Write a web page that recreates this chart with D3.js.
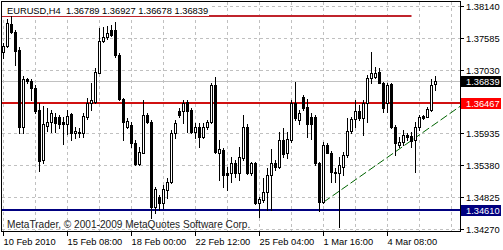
<!DOCTYPE html>
<html><head><meta charset="utf-8">
<script src="https://cdn.jsdelivr.net/npm/d3@7"></script>
<style>html,body{margin:0;padding:0;background:#fff;} svg{display:block;}</style>
</head><body><svg id="c" width="503" height="250"></svg>
<script>
// ---------- data ----------
const symbol = "EURUSD,H4";
const open = [1.37348,1.37452,1.37828,1.37695,1.37377,1.36036,1.36868,1.36845,1.36712,1.36337,
1.3547,1.36059,1.36134,1.36221,1.36209,1.36134,1.36094,1.36267,1.35932,1.35961,
1.35944,1.36221,1.36464,1.36481,1.36984,1.37539,1.37597,1.37724,1.37724,1.3729,
1.36527,1.36048,1.36077,1.35759,1.354,1.35597,1.3625,1.36134,1.3466,1.34822,
1.3473,1.34949,1.35094,1.35932,1.36325,1.36325,1.36481,1.36337,1.35961,1.36036,
1.35874,1.36036,1.36134,1.3677,1.35585,1.35643,1.35238,1.35238,1.35412,1.3525,
1.35499,1.36048,1.35238,1.35412,1.3473,1.34776,1.3492,1.3521,1.35423,1.35354,
1.35816,1.35585,1.35816,1.36464,1.36163,1.36568,1.36383,1.36221,1.36209,1.35412,
1.34747,1.3573,1.35597,1.35238,1.35238,1.35354,1.35556,1.35978,1.36175,1.36319,
1.36192,1.36452,1.36886,1.36903,1.3699,1.36799,1.36452,1.36782,1.36036,1.3573,
1.35788,1.35903,1.35886,1.35816,1.36036,1.36233,1.36221,1.36337,1.36789];
const high = [1.37493,1.37909,1.37967,1.37724,1.37435,1.36926,1.36897,1.36868,1.3677,1.36452,
1.36406,1.36366,1.36337,1.36279,1.3625,1.36221,1.36337,1.3629,1.36048,1.36019,
1.36279,1.36539,1.36799,1.37059,1.37753,1.3777,1.37793,1.37811,1.37868,1.37319,
1.36539,1.36192,1.36134,1.35816,1.35701,1.3651,1.36279,1.36163,1.35007,1.34863,
1.35036,1.35152,1.3599,1.36163,1.36366,1.3651,1.3651,1.36366,1.36105,1.36105,
1.36105,1.36163,1.36799,1.36903,1.35816,1.35672,1.35354,1.35527,1.3547,1.35701,
1.3625,1.36094,1.35441,1.35441,1.34834,1.35152,1.35325,1.35655,1.3547,1.35961,
1.36019,1.35961,1.3651,1.36828,1.36337,1.36597,1.36522,1.36279,1.3625,1.35441,
1.35788,1.35759,1.35631,1.35325,1.35527,1.35614,1.36192,1.36221,1.3651,1.36423,
1.3651,1.36944,1.37348,1.37088,1.37059,1.36828,1.36799,1.36799,1.36077,1.35874,
1.3599,1.35932,1.35961,1.36134,1.3625,1.3625,1.36394,1.36868,1.36927];
const low = [1.37233,1.37435,1.37678,1.37117,1.35932,1.35932,1.36811,1.3651,1.3629,1.35285,
1.35412,1.35978,1.35961,1.35961,1.36019,1.35747,1.3592,1.35816,1.35845,1.35874,
1.35863,1.36186,1.36337,1.36452,1.36972,1.37522,1.37562,1.3762,1.37261,1.3651,
1.35816,1.36019,1.35701,1.35383,1.35383,1.35585,1.36105,1.34458,1.34545,1.34603,
1.34631,1.34805,1.35065,1.35845,1.36221,1.36105,1.35961,1.35932,1.35845,1.35701,
1.35845,1.36001,1.36117,1.35585,1.35123,1.35007,1.34949,1.35094,1.35181,1.35123,
1.3547,1.35227,1.3521,1.34707,1.34487,1.34747,1.34603,1.34603,1.35296,1.35325,
1.35527,1.35499,1.35788,1.36163,1.36094,1.36337,1.35863,1.35828,1.35383,1.34591,
1.34718,1.35585,1.35094,1.35094,1.34314,1.3521,1.35527,1.35932,1.36048,1.36163,
1.35903,1.36134,1.36799,1.36886,1.36799,1.36308,1.36308,1.36019,1.35556,1.35701,
1.3573,1.35816,1.35701,1.35267,1.3599,1.36175,1.36209,1.36325,1.36678];
const close = [1.37446,1.37839,1.37695,1.37365,1.36036,1.36874,1.3684,1.36712,1.36325,1.35458,
1.36094,1.36134,1.36279,1.36117,1.36094,1.36094,1.36238,1.35932,1.35973,1.35944,
1.36233,1.36464,1.3651,1.37001,1.37539,1.37597,1.37666,1.37637,1.3729,1.36527,
1.36134,1.36152,1.35759,1.354,1.35614,1.3625,1.36134,1.34649,1.34961,1.3473,
1.34961,1.35094,1.35932,1.36105,1.3625,1.36464,1.36325,1.35961,1.36048,1.35874,
1.36048,1.36134,1.3677,1.35614,1.35655,1.3521,1.3521,1.35412,1.3525,1.35516,
1.36048,1.3525,1.35412,1.3473,1.34788,1.3492,1.3521,1.35423,1.35354,1.35816,
1.35574,1.35828,1.36464,1.36192,1.36279,1.36366,1.36094,1.36094,1.35412,1.34747,
1.3573,1.35597,1.35267,1.35267,1.35383,1.35556,1.35978,1.36181,1.36319,1.36204,
1.36452,1.36886,1.36972,1.36972,1.36811,1.36366,1.3677,1.36036,1.35759,1.35788,
1.35903,1.35874,1.35805,1.36048,1.36221,1.36192,1.36348,1.3677,1.36839];
const timeLabels = ["10 Feb 2010","15 Feb 08:00","18 Feb 00:00","22 Feb 12:00","25 Feb 04:00","1 Mar 16:00","4 Mar 08:00"];
const timeLabelBars = [0,16,32,48,64,80,96];
const gridBars = [0,8,16,24,32,40,48,56,64,72,80,88,96,104,112];
const priceTicks = [1.38140,1.37585,1.37030,1.36480,1.35935,1.35380,1.34825,1.34270];
const currentPrice = 1.36839;
const resistanceLevel = 1.36467;
const supportLevel = 1.34610;
const upperLevel = 1.37966;
const upperLevelEndBar = 102;
const trendBars = [80,102];
const trendPrices = [1.3474,1.3581];
const watermark = "MetaTrader, \u00a9 2001-2009 MetaQuotes Software Corp.";

// ---------- drawing ----------
const FONT = "'Liberation Sans', Arial, sans-serif";
const svg = d3.select("#c");
const L = 2, R = 460, T = 2, B = 232;
const x = d3.scaleLinear().domain([0, 108]).range([3.5, 435.5]);
const y = d3.scaleLinear().domain([1.342234, 1.382088]).range([B, T]);
const py = v => Math.round(y(v));
const fmt = d3.format(".5f");

svg.append("rect").attr("width",503).attr("height",250).attr("fill","#fff");
svg.append("defs").append("clipPath").attr("id","clip")
  .append("rect").attr("x",L).attr("y",T).attr("width",R-L).attr("height",B-T);
const plot = svg.append("g").attr("clip-path","url(#clip)");

// grid
plot.selectAll("line.hg").data(priceTicks).join("line").attr("class","hg")
  .attr("x1",L).attr("x2",R).attr("y1",d=>py(d)+0.5).attr("y2",d=>py(d)+0.5)
  .attr("stroke","#c0c0c0").attr("stroke-dasharray","3,3");
plot.selectAll("line.vg").data(gridBars).join("line").attr("class","vg")
  .attr("x1",d=>x(d)).attr("x2",d=>x(d)).attr("y1",T).attr("y2",B)
  .attr("stroke","#c0c0c0").attr("stroke-dasharray","3,3");

// current price line
plot.append("line").attr("x1",L).attr("x2",R)
  .attr("y1",py(currentPrice)+0.5).attr("y2",py(currentPrice)+0.5).attr("stroke","#c0c0c0");

// level lines
plot.append("line").attr("x1",L).attr("x2",R)
  .attr("y1",py(resistanceLevel)).attr("y2",py(resistanceLevel))
  .attr("stroke","#d01010").attr("stroke-width",2);
plot.append("line").attr("x1",L).attr("x2",R)
  .attr("y1",py(supportLevel)).attr("y2",py(supportLevel))
  .attr("stroke","#000080").attr("stroke-width",2);
plot.append("line").attr("x1",L).attr("x2",x(upperLevelEndBar))
  .attr("y1",py(upperLevel)).attr("y2",py(upperLevel))
  .attr("stroke","#c0242c").attr("stroke-width",2);

// trend line (ray)
const tl = d3.scaleLinear().domain(trendBars).range(trendPrices);
const kEnd = x.invert(R);
plot.append("line")
  .attr("x1",x(trendBars[0])).attr("y1",y(trendPrices[0]))
  .attr("x2",R).attr("y2",y(tl(kEnd)))
  .attr("stroke","#006400").attr("stroke-width",1).attr("stroke-dasharray","8,3");

// candles
const idx = d3.range(open.length);
plot.selectAll("line.wick").data(idx).join("line").attr("class","wick")
  .attr("x1",i=>x(i)).attr("x2",i=>x(i))
  .attr("y1",i=>py(high[i])).attr("y2",i=>py(low[i])+1)
  .attr("stroke","#000");
const bear = idx.filter(i=>close[i] < open[i]);
const bull = idx.filter(i=>close[i] >= open[i]);
plot.selectAll("rect.bear").data(bear).join("rect").attr("class","bear")
  .attr("x",i=>x(i)-1.5).attr("width",3)
  .attr("y",i=>py(open[i])).attr("height",i=>Math.max(1,py(close[i])-py(open[i])+1))
  .attr("fill","#000");
plot.selectAll("rect.bull").data(bull).join("rect").attr("class","bull")
  .attr("x",i=>x(i)-1).attr("width",2)
  .attr("y",i=>py(close[i])+0.5).attr("height",i=>Math.max(0,py(open[i])-py(close[i])))
  .attr("fill","#fff").attr("stroke","#000");

// header
svg.append("rect").attr("x",L).attr("y",T).attr("width",207).attr("height",14).attr("fill","#fff");
const last = open.length-1;
svg.append("text").attr("x",7).attr("y",14)
  .attr("font-family",FONT).attr("font-size","9.3px").attr("fill","#000")
  .attr("xml:space","preserve")
  .text(`${symbol}  ${fmt(open[last])} ${fmt(high[last])} ${fmt(low[last])} ${fmt(close[last])}`);

// watermark
svg.append("text").attr("x",7).attr("y",228)
  .attr("font-family",FONT).attr("font-size","10.1px").attr("fill","#222")
  .text(watermark);

// frame
svg.append("rect").attr("x",1.5).attr("y",1.5).attr("width",459).attr("height",230)
  .attr("fill","none").attr("stroke","#000");

// right axis
const ax = svg.append("g");
ax.selectAll("line.yt").data(priceTicks).join("line").attr("class","yt")
  .attr("x1",461).attr("x2",464).attr("y1",d=>py(d)+0.5).attr("y2",d=>py(d)+0.5).attr("stroke","#000");
ax.selectAll("text.yl").data(priceTicks).join("text").attr("class","yl")
  .attr("x",466).attr("y",d=>py(d)+3.5)
  .attr("font-family",FONT).attr("font-size","9.3px").attr("fill","#000")
  .text(d=>fmt(d));
function tag(v, bg){
  ax.append("rect").attr("x",461).attr("y",py(v)-5).attr("width",40).attr("height",11).attr("fill",bg);
  ax.append("text").attr("x",466).attr("y",py(v)+3.5)
    .attr("font-family",FONT).attr("font-size","9.3px").attr("fill","#fff").text(fmt(v));
}
tag(currentPrice,"#000");
tag(resistanceLevel,"#ff0000");
tag(supportLevel,"#000080");

// bottom axis
ax.selectAll("line.xt").data(timeLabelBars).join("line").attr("class","xt")
  .attr("x1",d=>x(d)).attr("x2",d=>x(d)).attr("y1",232).attr("y2",236).attr("stroke","#000");
ax.selectAll("text.xl").data(timeLabels).join("text").attr("class","xl")
  .attr("x",(d,i)=>x(timeLabelBars[i])).attr("y",245)
  .attr("font-family",FONT).attr("font-size","9.3px").attr("fill","#000")
  .text(d=>d);
</script>
</body></html>
